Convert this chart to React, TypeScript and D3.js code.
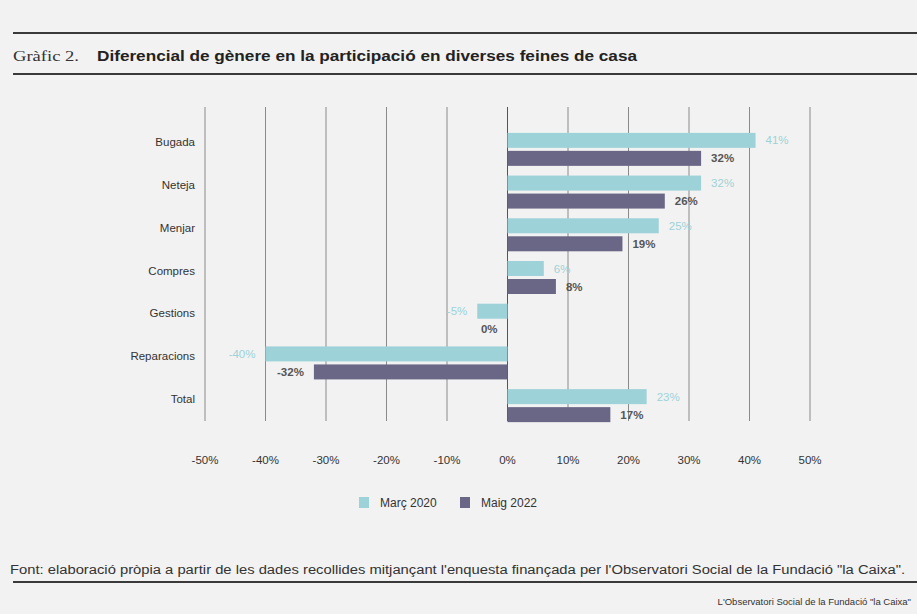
import React from "react";
import * as d3 from "d3";

const categories = ["Bugada", "Neteja", "Menjar", "Compres", "Gestions", "Reparacions", "Total"];
const marc2020 = [41, 32, 25, 6, -5, -40, 23];
const maig2022 = [32, 26, 19, 8, 0, -32, 17];
const tickValues = [-50, -40, -30, -20, -10, 0, 10, 20, 30, 40, 50];
const seriesNames = ["Març 2020", "Maig 2022"];

const W = 917;
const H = 614;
const C_LIGHT = "#9dd2d8";
const C_DARK = "#6a6685";
const FONT = "'Liberation Sans', Arial, sans-serif";
const NARROW = "'Liberation Sans Narrow', 'Liberation Sans', Arial, sans-serif";

export default function App() {
  const x = d3.scaleLinear().domain([-50, 50]).range([205, 810]);
  const y = d3.scaleBand().domain(categories).range([128, 427]).paddingInner(0).paddingOuter(0);
  const barH = 15;
  const gap = 3;
  const step = y.bandwidth();
  const top = (c: string) => (y(c) as number) + (step - (2 * barH + gap)) / 2;

  const fmt = (v: number) => `${v}%`;

  return (
    <svg width={W} height={H} style={{ position: "absolute", left: 0, top: 0, background: "#f2f2f2" }}>
      <rect x={0} y={0} width={W} height={H} fill="#f2f2f2" />
      {/* header rules */}
      <line x1={13} x2={W} y1={33} y2={33} stroke="#3a3a3a" strokeWidth={2} />
      <line x1={13} x2={W} y1={74} y2={74} stroke="#3a3a3a" strokeWidth={2} />
      <text x={13} y={61} fontFamily="'Liberation Serif', 'DejaVu Serif', serif" fontSize={14} fill="#333" textLength={66} lengthAdjust="spacingAndGlyphs">Gràfic 2.</text>
      <text x={97} y={61} fontFamily={NARROW} fontWeight="bold" fontSize={15} fill="#222" textLength={540} lengthAdjust="spacingAndGlyphs">Diferencial de gènere en la participació en diverses feines de casa</text>

      {/* gridlines */}
      {tickValues.map((t) => (
        <line key={"g" + t} x1={x(t)} x2={x(t)} y1={107} y2={421} stroke={t === 0 ? "#555" : "#8a8a8a"} strokeWidth={1} />
      ))}

      {/* bars */}
      {categories.map((c, i) => {
        const t0 = top(c);
        const v1 = marc2020[i];
        const v2 = maig2022[i];
        return (
          <g key={c}>
            <rect x={Math.min(x(0), x(v1))} y={t0} width={Math.abs(x(v1) - x(0))} height={barH} fill={C_LIGHT} />
            <rect x={Math.min(x(0), x(v2))} y={t0 + barH + gap} width={Math.abs(x(v2) - x(0))} height={barH} fill={C_DARK} />
            <text x={v1 > 0 ? x(v1) + 10 : x(v1) - 10} y={t0 + barH / 2 + 4} textAnchor={v1 > 0 ? "start" : "end"} fontFamily={FONT} fontSize={11.5} fill={C_LIGHT}>{fmt(v1)}</text>
            <text x={v2 > 0 ? x(v2) + 10 : x(v2) - 10} y={t0 + barH + gap + barH / 2 + 4} textAnchor={v2 > 0 ? "start" : "end"} fontFamily={FONT} fontWeight="bold" fontSize={11.5} fill="#555">{fmt(v2)}</text>
            <text x={195} y={t0 + barH / 2 + 6} textAnchor="end" fontFamily={FONT} fontSize={11.5} fill="#333">{c}</text>
          </g>
        );
      })}

      {/* x tick labels */}
      {tickValues.map((t) => (
        <text key={"t" + t} x={x(t)} y={464} textAnchor="middle" fontFamily={FONT} fontSize={11.5} fill="#333">{fmt(t)}</text>
      ))}

      {/* legend */}
      {seriesNames.map((s, i) => {
        const lx = i === 0 ? 359 : 460;
        return (
          <g key={s}>
            <rect x={lx} y={497} width={10} height={11} fill={i === 0 ? C_LIGHT : C_DARK} />
            <text x={lx + 21} y={507} fontFamily={FONT} fontSize={12} fill="#333">{s}</text>
          </g>
        );
      })}

      {/* footer */}
      <text x={10} y={574} fontFamily={NARROW} fontSize={12} fill="#333" textLength={895} lengthAdjust="spacingAndGlyphs">Font: elaboració pròpia a partir de les dades recollides mitjançant l'enquesta finançada per l'Observatori Social de la Fundació "la Caixa".</text>
      <line x1={13} x2={W} y1={582} y2={582} stroke="#3a3a3a" strokeWidth={2} />
      <text x={911} y={605} textAnchor="end" fontFamily={FONT} fontSize={9.5} fill="#333">L'Observatori Social de la Fundació "la Caixa"</text>
    </svg>
  );
}
